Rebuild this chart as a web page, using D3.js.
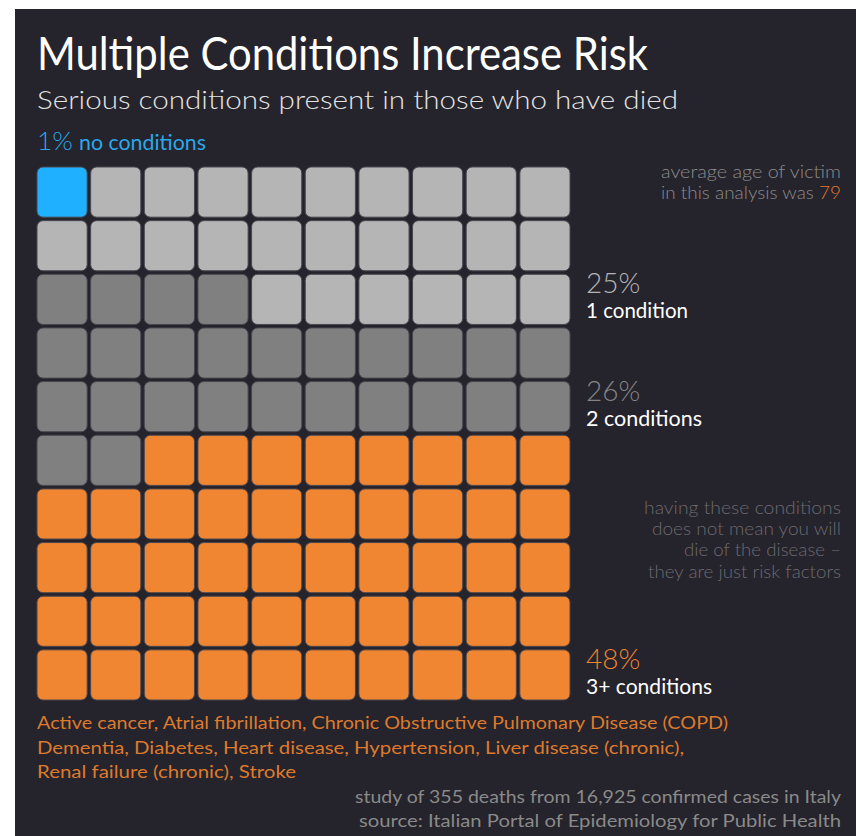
<!DOCTYPE html>
<html>
<head>
<meta charset="utf-8">
<script src="https://cdn.jsdelivr.net/npm/d3@7"></script>
<style>
  html, body { margin: 0; padding: 0; background: #fff; }
  svg text { font-family: Lato, "Open Sans", sans-serif; }
</style>
</head>
<body>
<svg id="chart" width="856" height="836"></svg>
<script>
// categories of the waffle, in the order of the legend
const categories = ["none", "one", "two", "three"];
const shares = [1, 25, 26, 48];
const percentLabels = ["1%", "25%", "26%", "48%"];
const conditionLabels = ["no conditions", "1 condition", "2 conditions", "3+ conditions"];

// how the 100 squares were laid out, one string per row (index into categories)
const gridRows = [
    "0111111111",
    "1111111111",
    "2222111111",
    "2222222222",
    "2222222222",
    "2233333333",
    "3333333333",
    "3333333333",
    "3333333333",
    "3333333333"
];

const riskFactors = [
    "Active cancer, Atrial fibrillation, Chronic Obstructive Pulmonary Disease (COPD)",
    "Dementia, Diabetes, Heart disease, Hypertension, Liver disease (chronic),",
    "Renal failure (chronic), Stroke"
];
const disclaimer = [
    "having these conditions",
    "does not mean you will",
    "die of the disease –",
    "they are just risk factors"
];
const sourceLines = [
    "study of 355 deaths from 16,925 confirmed cases in Italy",
    "source: Italian Portal of Epidemiology for Public Health"
];
const averageAge = 79;

const colors = {none: "#1fb0ff", one: "#b5b5b5", two: "#808080", three: "#f08532"};
const labelColors = {none: "#2aa8ea", one: "#b5b5b5", two: "#858585", three: "#ef8430"};

const svg = d3.select("#chart");

svg.append("rect")
    .attr("x", 15).attr("y", 9)
    .attr("width", 841).attr("height", 827)
    .attr("fill", "#25232b");

// title block
svg.append("text")
    .attr("x", 37).attr("y", 70)
    .attr("font-size", 46)
    .attr("fill", "#ffffff")
    .attr("textLength", 611)
    .attr("lengthAdjust", "spacingAndGlyphs")
    .text("Multiple Conditions Increase Risk");

svg.append("text")
    .attr("x", 37).attr("y", 109)
    .attr("font-size", 25)
    .attr("font-weight", 300)
    .attr("fill", "#e4e4e4")
    .attr("textLength", 641)
    .attr("lengthAdjust", "spacingAndGlyphs")
    .text("Serious conditions present in those who have died");

// waffle grid
const cells = [];
gridRows.forEach((row, r) => {
    row.split("").forEach((c, col) => {
        cells.push({row: r, col: col, cat: categories[+c]});
    });
});

const xScale = d3.scaleBand()
    .domain(d3.range(10))
    .range([37, 570])
    .paddingInner(0.065);

const yScale = d3.scaleBand()
    .domain(d3.range(10))
    .range([167, 700])
    .paddingInner(0.065);

svg.append("g")
    .selectAll("rect")
    .data(cells)
    .join("rect")
    .attr("x", d => xScale(d.col))
    .attr("y", d => yScale(d.row))
    .attr("width", xScale.bandwidth())
    .attr("height", yScale.bandwidth())
    .attr("rx", 6)
    .attr("fill", d => colors[d.cat])
    .attr("stroke", "#4a4850")
    .attr("stroke-width", 1);

// "no conditions" label sits above the grid
const noneLabel = svg.append("text")
    .attr("x", 37).attr("y", 150)
    .attr("fill", labelColors.none)
    .attr("textLength", 169)
    .attr("lengthAdjust", "spacingAndGlyphs");
noneLabel.append("tspan")
    .attr("font-size", 26)
    .attr("font-weight", 300)
    .text(percentLabels[0]);
noneLabel.append("tspan")
    .attr("font-size", 21)
    .attr("dx", 6)
    .text(conditionLabels[0]);

// side labels for the other categories, placed by the grid rows
const sideLabels = [
    {i: 1, row: 2, w: 102},
    {i: 2, row: 4, w: 116},
    {i: 3, row: 9, w: 126}
];
sideLabels.forEach(s => {
    const yBase = yScale(s.row) + yScale.bandwidth();
    svg.append("text")
        .attr("x", 586).attr("y", yBase - 31)
        .attr("font-size", 28)
        .attr("font-weight", 300)
        .attr("fill", labelColors[categories[s.i]])
        .text(percentLabels[s.i]);
    svg.append("text")
        .attr("x", 586).attr("y", yBase - 6)
        .attr("font-size", 21)
        .attr("fill", "#ffffff")
        .attr("textLength", s.w)
        .attr("lengthAdjust", "spacingAndGlyphs")
        .text(conditionLabels[s.i]);
});

// average age note
const ageNote = svg.append("g").attr("text-anchor", "end")
    .attr("font-size", 18).attr("font-weight", 300).attr("fill", "#8c8c8c");
ageNote.append("text").attr("x", 841).attr("y", 178)
    .attr("textLength", 180).attr("lengthAdjust", "spacingAndGlyphs")
    .text("average age of victim");
const ageLine = ageNote.append("text").attr("x", 841).attr("y", 199)
    .attr("textLength", 180).attr("lengthAdjust", "spacingAndGlyphs");
ageLine.append("tspan").text("in this analysis was ");
ageLine.append("tspan").attr("fill", "#e07a2c").text(averageAge);

// disclaimer
const disclaimerWidths = [197, 189, 157, 193];
svg.append("g")
    .attr("text-anchor", "end")
    .attr("font-size", 18).attr("font-weight", 300).attr("fill", "#6c6a70")
    .selectAll("text")
    .data(disclaimer)
    .join("text")
    .attr("x", 841)
    .attr("y", (d, i) => 514 + i * 21.2)
    .attr("textLength", (d, i) => disclaimerWidths[i])
    .attr("lengthAdjust", "spacingAndGlyphs")
    .text(d => d);

// list of conditions counted as risk factors
const factorWidths = [691, 647, 259];
svg.append("g")
    .attr("font-size", 18).attr("fill", "#dd7a2e")
    .selectAll("text")
    .data(riskFactors)
    .join("text")
    .attr("x", 37)
    .attr("y", (d, i) => 729 + i * 24.5)
    .attr("textLength", (d, i) => factorWidths[i])
    .attr("lengthAdjust", "spacingAndGlyphs")
    .text(d => d);

// source
const sourceWidths = [486, 482];
svg.append("g")
    .attr("text-anchor", "end")
    .attr("font-size", 18).attr("fill", "#8a8a8a")
    .selectAll("text")
    .data(sourceLines)
    .join("text")
    .attr("x", 841)
    .attr("y", (d, i) => 803 + i * 24)
    .attr("textLength", (d, i) => sourceWidths[i])
    .attr("lengthAdjust", "spacingAndGlyphs")
    .text(d => d);
</script>
</body>
</html>
